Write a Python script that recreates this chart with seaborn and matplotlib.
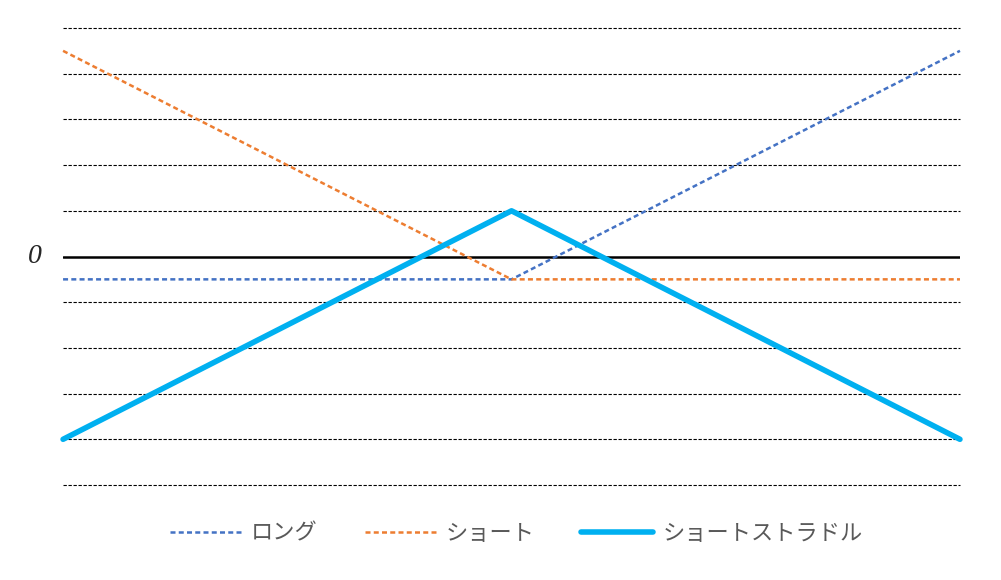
import pandas as pd
import seaborn as sns
import matplotlib.pyplot as plt

# payoff diagram values (grid units, one gridline = 1)
price = [0, 5, 10]
long_call = [-0.5, -0.5, 4.5]
long_put = [4.5, -0.5, -0.5]
short_straddle = [-4, 1, -4]
grid_levels = [-5, -4, -3, -2, -1, 1, 2, 3, 4, 5]

series_names = ['ロング', 'ショート', 'ショートストラドル']


def main():
    sns.set_style('white')
    plt.rcParams['font.family'] = ['Noto Sans CJK JP', 'DejaVu Sans']

    df = pd.DataFrame({
        'price': price * 3,
        'value': long_call + long_put + short_straddle,
        'series': [series_names[0]] * 3 + [series_names[1]] * 3 + [series_names[2]] * 3,
    })

    fig = plt.figure(figsize=(10.01, 5.80), dpi=100)
    ax = fig.add_axes([0.063, 1 - 485 / 580, 0.896, (485 - 28) / 580])

    for g in grid_levels:
        ax.axhline(g, color='black', lw=0.8, ls=(0, (3, 1.5)), zorder=1, clip_on=False)
    ax.axhline(0, color='black', lw=1.8, zorder=1)

    palette = {series_names[0]: '#4472C4', series_names[1]: '#ED7D31', series_names[2]: '#00B0F0'}
    sns.lineplot(data=df, x='price', y='value', hue='series', palette=palette, ax=ax,
                 legend=False, zorder=3)
    styles = [(1.8, (0, (2, 1.3))), (1.8, (0, (2, 1.3))), (4.0, '-')]
    for line, (lw, ls) in zip(ax.get_lines()[-3:], styles):
        line.set_linewidth(lw)
        line.set_linestyle(ls)
        line.set_clip_on(False)
        line.set_solid_capstyle('round')

    ax.set_xlim(0, 10)
    ax.set_ylim(-5, 5)
    ax.set_xticks([])
    ax.set_yticks([])
    for s in ax.spines.values():
        s.set_visible(False)
    ax.set_xlabel('')
    ax.set_ylabel('')

    ax.text(-0.024, 0, '0', transform=ax.get_yaxis_transform(), ha='right', va='center',
            fontsize=20, fontstyle='italic', family='Liberation Serif')

    handles = [plt.Line2D([], [], color=palette[n], lw=lw, ls=ls, solid_capstyle='round')
               for n, (lw, ls) in zip(series_names, styles)]
    fig.legend(handles, series_names, loc='center', bbox_to_anchor=(0.516, 1 - 533 / 580),
               ncol=3, frameon=False, fontsize=16, handlelength=3.2, columnspacing=2.1,
               handletextpad=0.45, labelcolor='#595959')

    fig.savefig('out.png', dpi=100)


if __name__ == "__main__":
    main()
